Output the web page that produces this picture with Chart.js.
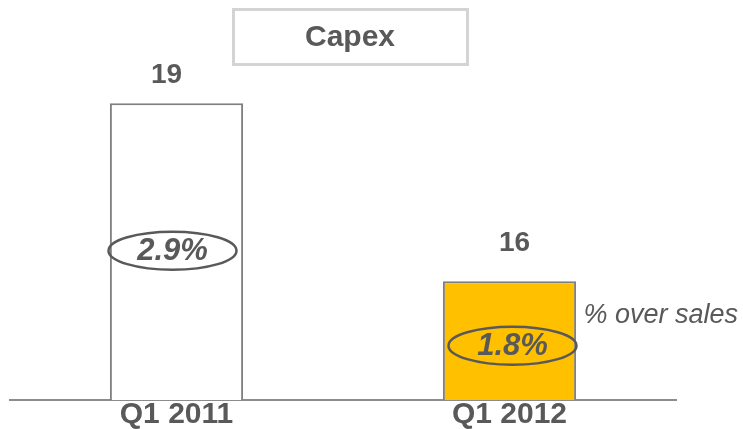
<!DOCTYPE html>
<html>
<head>
<meta charset="utf-8">
<script src="https://cdn.jsdelivr.net/npm/chart.js@4.4.1/dist/chart.umd.min.js"></script>
<style>
  html, body { margin: 0; padding: 0; background: #fff; }
  #wrap { width: 743px; height: 429px; position: relative; }
</style>
</head>
<body>
<div id="wrap"><canvas id="chart"></canvas></div>
<script>
// Data
const categories = ['Q1 2011', 'Q1 2012'];
const capexValues = [19, 16];
const pctOverSales = ['2.9%', '1.8%'];
const barColors = ['#ffffff', '#ffc000'];
const titleText = 'Capex';
const noteText = '% over sales';

const textColor = '#595959';

// title box, value labels, ellipses and note
const annotations = {
  id: 'annotations',
  afterDatasetsDraw(chart) {
    const ctx = chart.ctx;
    const meta = chart.getDatasetMeta(0);
    const baseY = chart.chartArea.bottom;
    ctx.save();

    // title box
    ctx.strokeStyle = '#d4d4d4';
    ctx.lineWidth = 3;
    ctx.strokeRect(233.5, 9.5, 234, 55);
    ctx.fillStyle = textColor;
    ctx.font = 'bold 30px "Liberation Sans", Arial, sans-serif';
    ctx.textAlign = 'center';
    ctx.textBaseline = 'middle';
    ctx.fillText(titleText, 350, 38);

    meta.data.forEach((bar, i) => {
      const shift = i === 0 ? -10 : 5;
      const lift = i === 0 ? 28 : 38;
      // value above bar
      ctx.fillStyle = textColor;
      ctx.font = 'bold 28px "Liberation Sans", Arial, sans-serif';
      ctx.textAlign = 'center';
      ctx.textBaseline = 'middle';
      ctx.fillText(String(capexValues[i]), bar.x + shift, bar.y - lift);

      // ellipse with percentage
      const cy = (bar.y + baseY) / 2 + (i === 1 ? 5 : -1);
      const cx = bar.x + (i === 0 ? -4 : 3);
      ctx.beginPath();
      ctx.ellipse(cx, cy, 64, 19, 0, 0, Math.PI * 2);
      ctx.lineWidth = 2.5;
      ctx.strokeStyle = '#595959';
      ctx.stroke();
      ctx.font = 'italic bold 31px "Liberation Sans", Arial, sans-serif';
      ctx.fillText(pctOverSales[i], cx, cy + 1);
    });

    // note
    const last = meta.data[meta.data.length - 1];
    ctx.font = 'italic 27px "Liberation Sans", Arial, sans-serif';
    ctx.textAlign = 'left';
    ctx.fillStyle = textColor;
    ctx.fillText(noteText, last.x + 74, 315);

    ctx.restore();
  }
};

new Chart(document.getElementById('chart'), {
  type: 'bar',
  data: {
    labels: categories,
    datasets: [{
      data: capexValues,
      backgroundColor: barColors,
      borderColor: '#7f7f7f',
      borderWidth: 2,
      barPercentage: 0.4,
      categoryPercentage: 1
    }]
  },
  options: {
    responsive: true,
    maintainAspectRatio: false,
    animation: false,
    layout: { padding: { left: 10, right: 67, top: 44, bottom: 0 } },
    plugins: {
      legend: { display: false },
      tooltip: { enabled: false }
    },
    scales: {
      x: {
        grid: { display: false, drawTicks: false },
        border: { display: true, color: '#8c8c8c', width: 2 },
        ticks: {
          color: textColor,
          padding: 0,
          font: { family: '"Liberation Sans", Arial, sans-serif', size: 30, weight: 'bold', lineHeight: 1 }
        },
        afterFit(scale) { scale.height = 29; }
      },
      y: {
        display: false,
        min: 14,
        max: 20
      }
    }
  },
  plugins: [annotations]
});
</script>
</body>
</html>
